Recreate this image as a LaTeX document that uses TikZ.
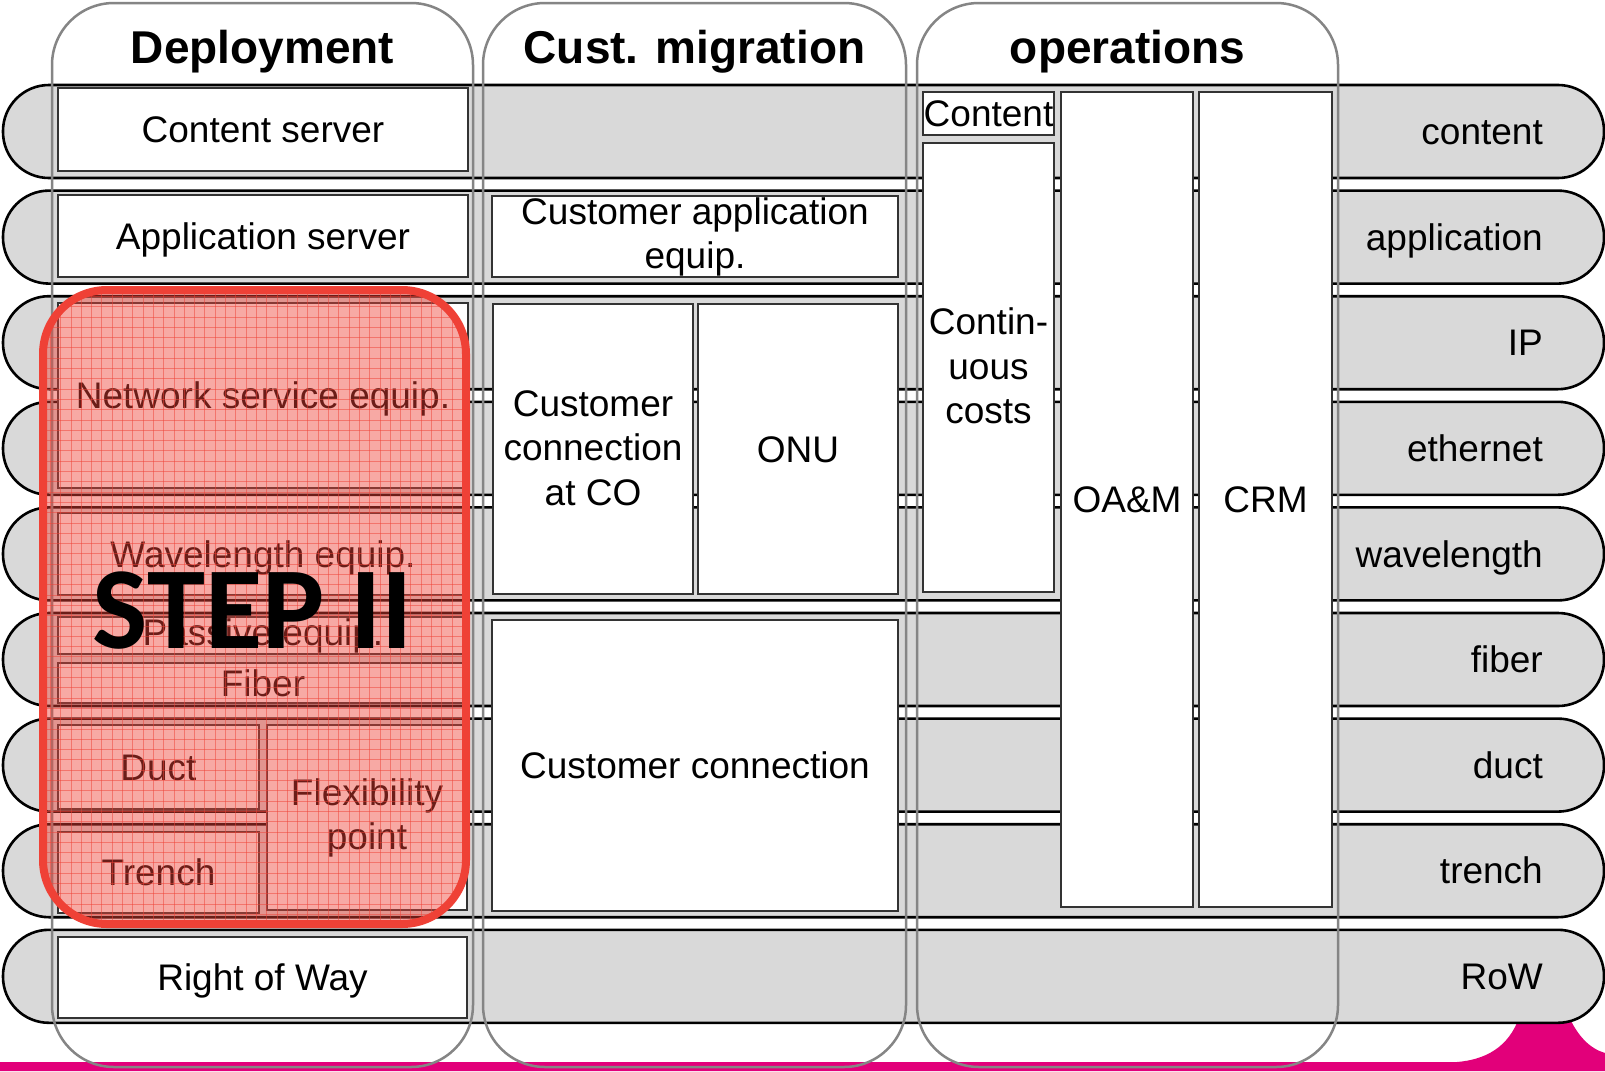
\documentclass[tikz,border=0pt]{standalone}
\usepackage{fontspec}
\setmainfont{Liberation Sans}
\newfontfamily\stepfont{Carlito}
\definecolor{pillgray}{HTML}{D9D9D9}
\definecolor{colgray}{HTML}{858585}
\definecolor{tmag}{HTML}{E2007A}
\definecolor{stepred}{HTML}{EF4136}
\newcommand\bodyfont{\fontsize{37}{44.5}\selectfont}
\newcommand\headfont{\fontsize{46}{52}\selectfont\bfseries}
\newcommand\topstrut{\rule{0pt}{28pt}}
\newcommand\botstrut{\rule[-5pt]{0pt}{5pt}}
\tikzset{
  pill/.style={draw=black, line width=2.6pt, fill=pillgray, rounded corners=46pt},
  colfill/.style={fill=white, rounded corners=62pt},
  colframe/.style={draw=colgray, line width=2.5pt, rounded corners=62pt},
  mcell/.style={draw=black!80, line width=1.3pt, fill=white, inner sep=0pt, align=center,
    font=\bodyfont},
  cell/.style={mcell, text height=30pt, text depth=3.5pt},
  lbl/.style={font=\bodyfont, anchor=east, inner sep=0pt, text height=30pt, text depth=3.5pt},
  head/.style={font=\headfont, anchor=base, inner sep=0pt},
  gridline/.style={draw=stepred, line width=0.8pt, opacity=0.5},
}
\begin{document}
\begin{tikzpicture}[x=1pt,y=-1pt]
\useasboundingbox (0,0) rectangle (1605,1071);
\fill[white] (0,0) rectangle (1605,1071);
% column fills
\fill[colfill] (52,3) rectangle (473,1067);
\fill[colfill] (483,3) rectangle (906,1067);
\fill[colfill] (917,3) rectangle (1338,1067);
% magenta footer
\fill[tmag] (0,1062) -- (1457,1062) .. controls (1492,1059) and (1512,1042) .. (1521,1012)
  -- (1567,1012) .. controls (1577,1037) and (1591,1049) .. (1605,1053) -- (1605,1071) -- (0,1071) -- cycle;
% layer pills
\foreach \i/\t/\n in {0/content/rcontent, 1/application/rapp, 2/IP/rip, 3/ethernet/reth,
  4/wavelength/rwave, 5/fiber/rfiber, 6/duct/rduct, 7/trench/rtrench, 8/RoW/rrow}{
  \pgfmathsetmacro\rtop{85+105.6*\i}
  \draw[pill] (3,\rtop) rectangle (1604,{\rtop+93});
  \node[lbl] (\n) at (1543,{\rtop+46.5}) {\t};
}
% column frames
\draw[colframe] (52,3) rectangle (473,1067);
\draw[colframe] (483,3) rectangle (906,1067);
\draw[colframe] (917,3) rectangle (1338,1067);
% headers
\node[head] (hdep) at (262.5,63) {Deployment};
\node[head] (hcust) at (694.5,63) {Cust. migration};
\node[head] (hops) at (1127.5,63) {operations};
% Deployment cells
\node[cell, minimum width=410pt, minimum height=83pt] (cs) at (263,129.5) {Content server};
\node[cell, minimum width=410pt, minimum height=82pt] (as) at (263,236) {Application server};
\node[cell, minimum width=410pt, minimum height=185pt] (nse) at (263,395.5) {Network service equip.};
\node[cell, minimum width=410pt, minimum height=82pt] (we) at (263,554) {Wavelength equip.};
\node[cell, minimum width=410pt, minimum height=37pt, text height=27pt, text depth=7pt] (pe) at (263,635.5) {Passive equip.};
\node[cell, minimum width=410pt, minimum height=40pt, text height=27pt, text depth=1pt] (fib) at (263,683) {Fiber};
\node[cell, minimum width=201pt, minimum height=84pt] (duct) at (158.5,767) {Duct};
\node[cell, minimum width=201pt, minimum height=81pt] (trench) at (158.5,872.5) {Trench};
\node[mcell, minimum width=200pt, minimum height=185pt] (flex) at (367,817.5) {\topstrut Flexibility\\point\botstrut};
\node[cell, minimum width=409pt, minimum height=81pt] (row) at (262.5,977.5) {Right of Way};
% Cust. migration cells
\node[mcell, minimum width=406pt, minimum height=81pt] (cae) at (695,236.5) {\topstrut Customer application\\equip.\botstrut};
\node[mcell, minimum width=200pt, minimum height=290pt] (ccco) at (593,449) {\topstrut Customer\\connection\\at CO\botstrut};
\node[cell, minimum width=200pt, minimum height=290pt] (onu) at (798,449) {ONU};
\node[cell, minimum width=406pt, minimum height=291pt] (cc) at (695,765.5) {Customer connection};
% operations cells
\node[cell, minimum width=131pt, minimum height=43pt, text height=27pt, text depth=1pt] (cont) at (988.5,113.5) {Content};
\node[mcell, minimum width=131pt, minimum height=449pt] (ccost) at (988.5,367.5) {\topstrut Contin-\\uous\\costs\botstrut};
\node[cell, minimum width=132pt, minimum height=815pt] (oam) at (1127,499.5) {OA\&M};
\node[cell, minimum width=133pt, minimum height=815pt] (crm) at (1265.5,499.5) {CRM};
% STEP II overlay
\begin{scope}
  \clip[rounded corners=64pt] (43,290) rectangle (466,924);
  \fill[stepred, opacity=0.45] (43,290) rectangle (466,924);
  \foreach \gx in {40,50.3,...,470} \draw[gridline] (\gx,286) -- (\gx,928);
  \foreach \gy in {286,296.3,...,928} \draw[gridline] (40,\gy) -- (470,\gy);
\end{scope}
\draw[stepred, line width=8pt, rounded corners=64pt] (43,290) rectangle (466,924);
\node[font={\stepfont\fontsize{117}{124}\selectfont\bfseries}, anchor=base, inner sep=0pt] (step2) at (253,648) {STEP II};
\end{tikzpicture}
\end{document}
